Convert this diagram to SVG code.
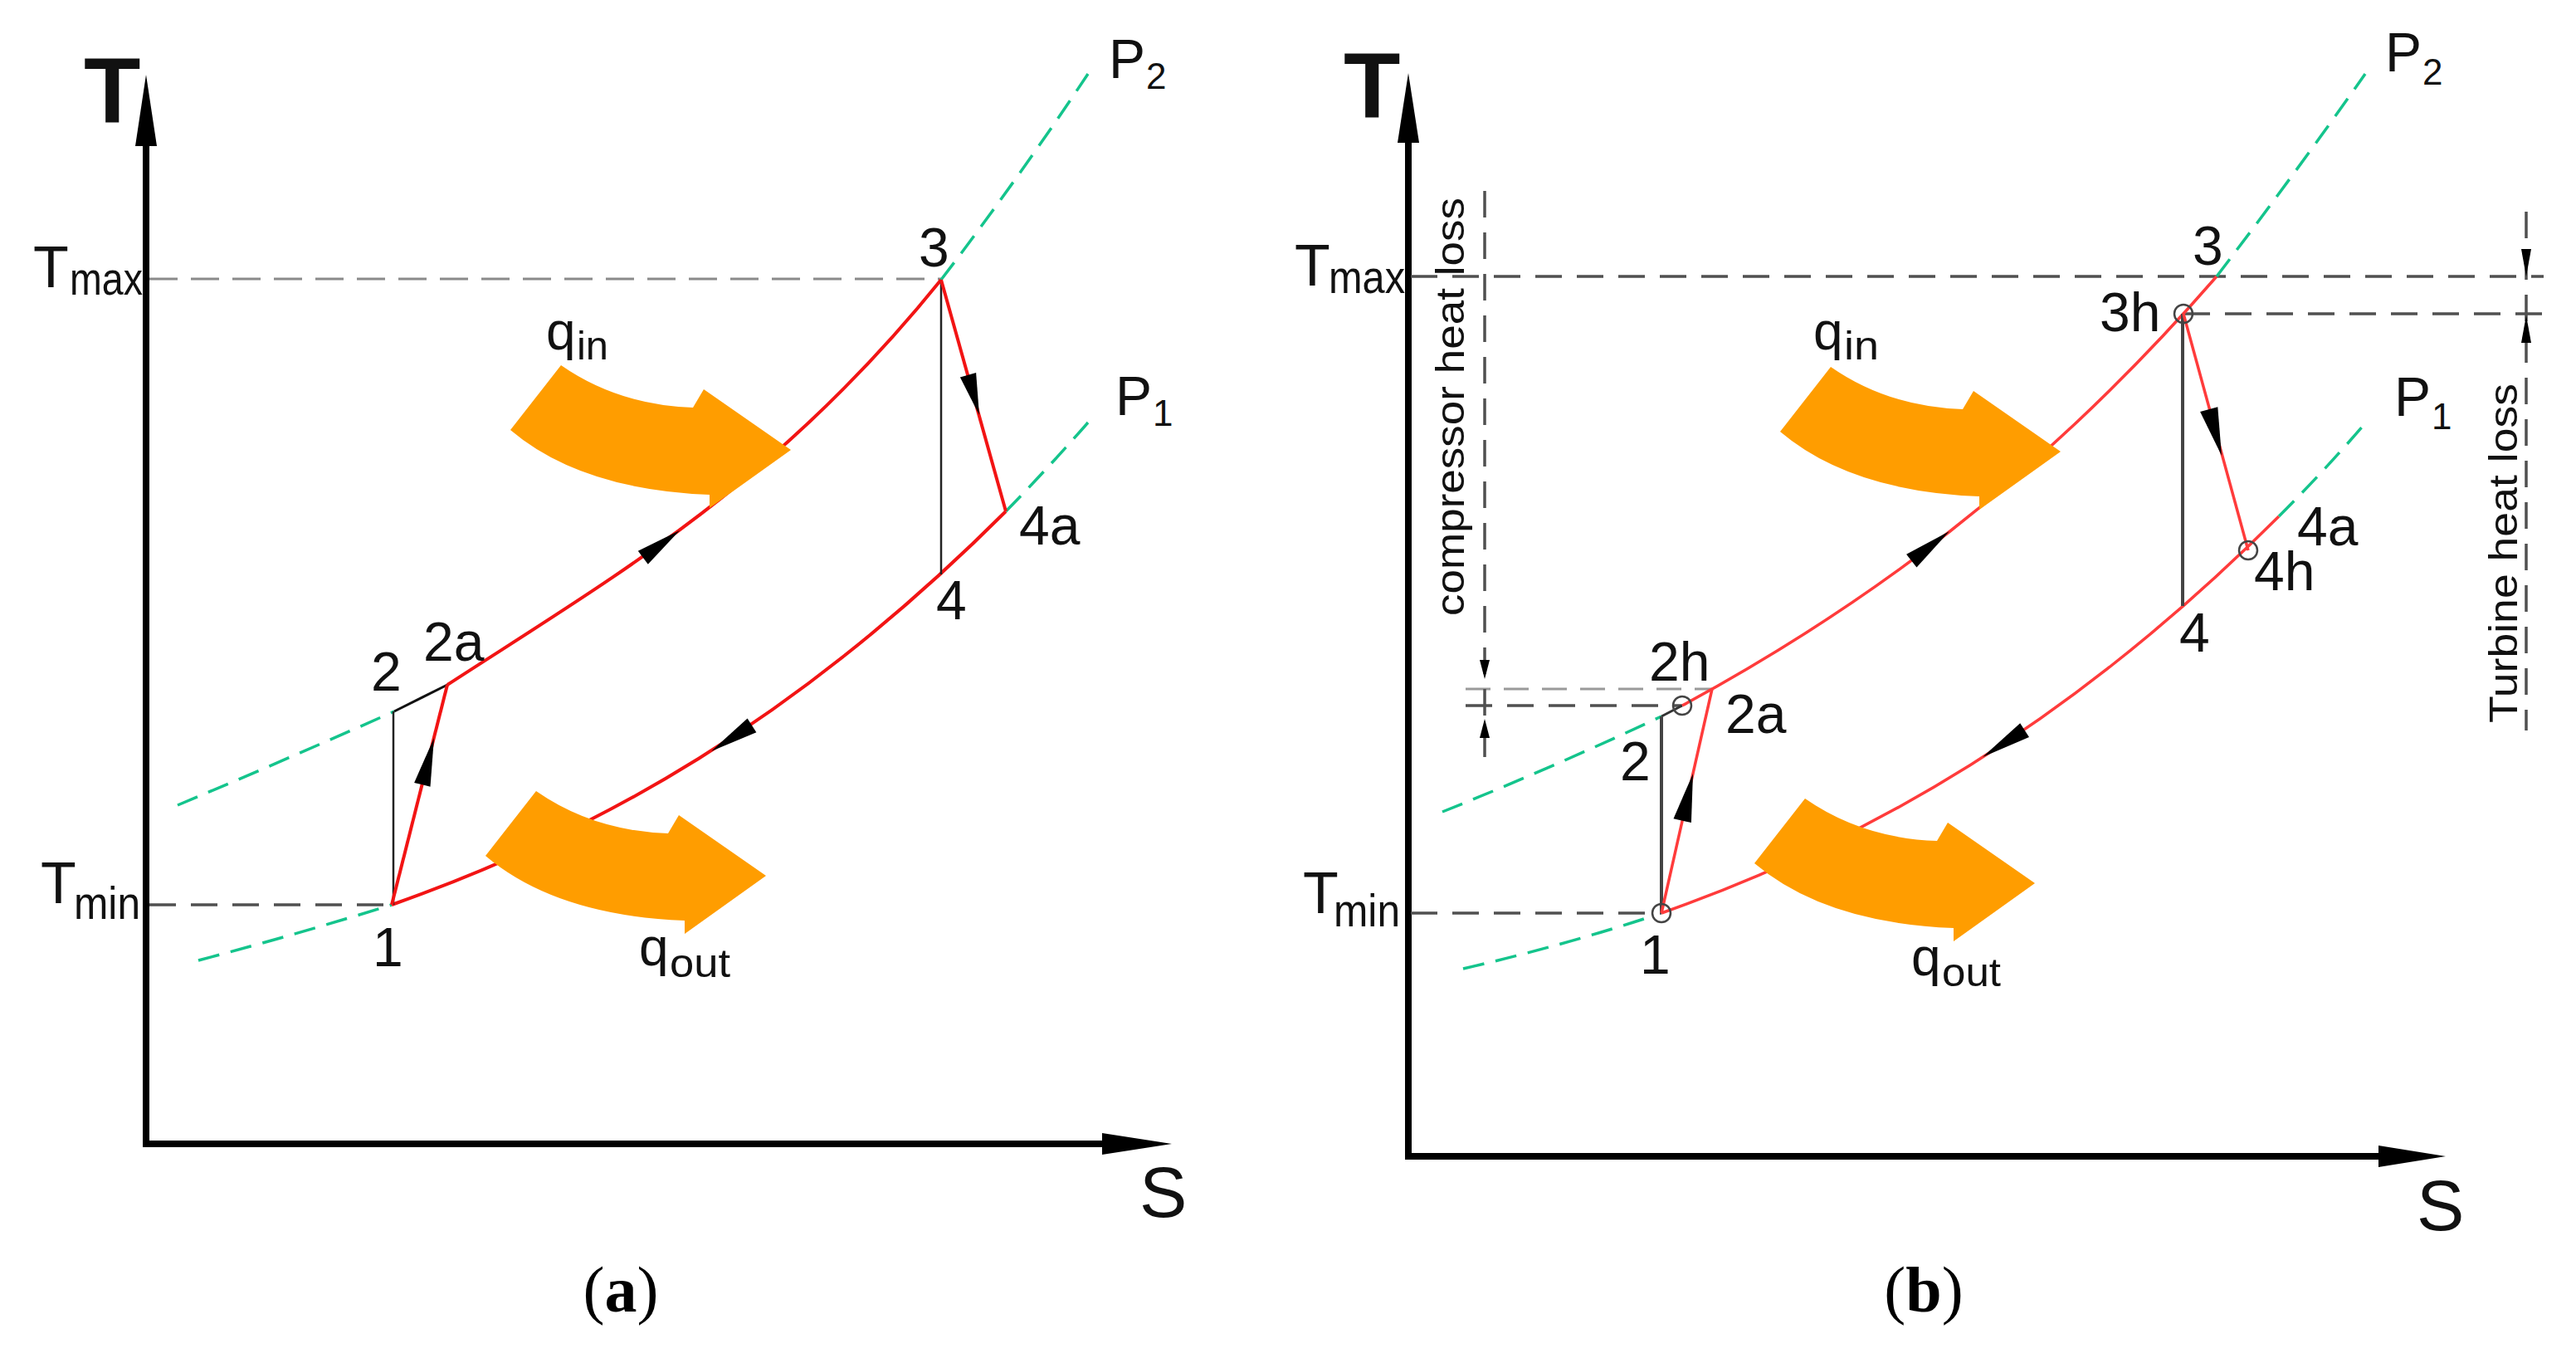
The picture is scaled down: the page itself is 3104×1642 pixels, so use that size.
<svg xmlns="http://www.w3.org/2000/svg" xmlns:xlink="http://www.w3.org/1999/xlink" width="3104" height="1642" viewBox="0 0 3104 1642">
<style>
.axis{stroke:#000;stroke-width:8;fill:none}
.ah{fill:#000;stroke:none}
.red{stroke:#f21414;stroke-width:4;fill:none}
.redb{stroke:#ff3b3b;stroke-width:3.5;fill:none}
.green{stroke:#14c48c;stroke-width:3.5;stroke-dasharray:26 14;fill:none}
.dsh{stroke:#8a8a8a;stroke-width:3;stroke-dasharray:34 16;fill:none}
.dshd{stroke:#505050;stroke-width:3.5;stroke-dasharray:32 18;fill:none}
.dshl{stroke:#9a9a9a;stroke-width:3;stroke-dasharray:30 16;fill:none}
.vert{stroke:#222;stroke-width:2.5;fill:none}
.vertb{stroke:#444;stroke-width:4;fill:none}
.circ{stroke:#444;stroke-width:2.5;fill:none}
.heat{fill:#ff9d00;stroke:none}
text{font-family:"Liberation Sans",Arial,Helvetica,sans-serif;fill:#111}
.pt{font-size:66px}
.big{font-size:112px;font-weight:bold}
.tl{font-size:70px}
.sub{font-size:56px}
.q{font-size:64px}
.qs{font-size:48px}
.P{font-size:66px}
.Ps{font-size:44px}
.S{font-size:86px}
.rot{font-size:48px}
.cap{font-family:"Liberation Serif","Times New Roman",serif;font-size:78px;fill:#000}
</style>
<defs>
<path id="heatArrow" d="M676,440 Q745,488 835,491 L848,469 L953,542 L855,612 L855,596 Q700,590 615,518 Z"/>
</defs>

<!-- ================= Panel (a) ================= -->
<g id="panel-a">
  <g id="a-axes">
    <line class="axis" x1="176" y1="1378" x2="176" y2="170"/>
    <polygon class="ah" points="176,90 189,176 163,176"/>
    <line class="axis" x1="172" y1="1378" x2="1335" y2="1378"/>
    <polygon class="ah" points="1412,1378 1328,1365 1328,1391"/>
    <text id="a-T" class="big" x="101" y="147">T</text>
    <text id="a-S" class="S" x="1373" y="1466">S</text>
  </g>
  <g id="a-connectors">
    <line class="dsh" x1="180" y1="336" x2="1134" y2="336"/>
    <line class="dshd" x1="180" y1="1090" x2="472" y2="1090"/>
    <path class="green" d="M214,970 Q345,915 475,857"/>
    <line stroke="#111" stroke-width="3" x1="475" y1="857" x2="539" y2="825"/>
    <path class="red" d="M539,825 C739,695 934,585 1134,337"/>
    <path class="green" d="M1134,337 Q1225,218 1311,89"/>
    <path class="green" d="M239,1157 Q360,1125 472,1090"/>
    <path class="red" d="M472,1090 C722,1002 962,866 1212,616"/>
    <path class="green" d="M1212,616 Q1262,565 1311,509"/>
    <line class="vert" x1="474" y1="857" x2="474" y2="1090"/>
    <line class="vert" stroke="#555" x1="1134" y1="337" x2="1134" y2="692"/>
    <line class="red" x1="472" y1="1090" x2="539" y2="825"/>
    <line class="red" x1="1134" y1="337" x2="1212" y2="616"/>
    <polygon class="ah" points="523,889 518.5,947.7 499.1,942.9"/>
    <polygon class="ah" points="1180,500 1156.9,454.5 1176.1,449.1"/>
    <polygon class="ah" points="819,639 780.8,679.7 768.8,663.7"/>
    <polygon class="ah" points="857,905 900.6,865.5 911.4,882.3"/>
  </g>
  <g id="a-heat">
    <use id="a-qin-arrow" xlink:href="#heatArrow" href="#heatArrow" class="heat"/>
    <use id="a-qout-arrow" xlink:href="#heatArrow" href="#heatArrow" class="heat" transform="translate(-30,513)"/>
  </g>
  <g id="a-labels">
    <g id="a-Tmax"><text class="tl" x="40" y="346">T</text><text class="sub" x="84" y="355" textLength="88" lengthAdjust="spacingAndGlyphs">max</text></g>
    <g id="a-Tmin"><text class="tl" x="49" y="1088">T</text><text class="sub" x="89" y="1107" textLength="80" lengthAdjust="spacingAndGlyphs">min</text></g>
    <g id="a-qin"><text class="q" x="658" y="421">q</text><text class="qs" x="695" y="433" textLength="38" lengthAdjust="spacingAndGlyphs">in</text></g>
    <g id="a-qout"><text class="q" x="770" y="1163">q</text><text class="qs" x="807" y="1177" textLength="73" lengthAdjust="spacingAndGlyphs">out</text></g>
    <g id="a-P2"><text class="P" x="1336" y="94">P</text><text class="Ps" x="1381" y="107">2</text></g>
    <g id="a-P1"><text class="P" x="1344" y="500">P</text><text class="Ps" x="1389" y="513">1</text></g>
    <text id="a-pt1" class="pt" x="449" y="1164">1</text>
    <text id="a-pt2" class="pt" x="447" y="832">2</text>
    <text id="a-pt2a" class="pt" x="510" y="796">2a</text>
    <text id="a-pt3" class="pt" x="1107" y="321">3</text>
    <text id="a-pt4" class="pt" x="1128" y="746">4</text>
    <text id="a-pt4a" class="pt" x="1228" y="656">4a</text>
  </g>
  <text id="cap-a" class="cap" x="748" y="1580" text-anchor="middle">(<tspan font-weight="bold">a</tspan>)</text>
</g>

<!-- ================= Panel (b) ================= -->
<g id="panel-b">
  <g id="b-axes">
    <line class="axis" x1="1697" y1="1393" x2="1697" y2="170"/>
    <polygon class="ah" points="1697,88 1710,172 1684,172"/>
    <line class="axis" x1="1693" y1="1393" x2="2870" y2="1393"/>
    <polygon class="ah" points="2947,1393 2866,1380 2866,1406"/>
    <text id="b-T" class="big" x="1619" y="141">T</text>
    <text id="b-S" class="S" x="2912" y="1482">S</text>
  </g>
  <g id="b-connectors">
    <line class="dshd" x1="1700" y1="333" x2="3065" y2="333"/>
    <line class="dshd" stroke="#666" x1="2631" y1="378" x2="3065" y2="378"/>
    <line class="dshd" x1="1700" y1="1100" x2="2002" y2="1100"/>
    <line class="dshl" x1="1766" y1="830" x2="2063" y2="830"/>
    <line class="dshd" stroke="#777" x1="1766" y1="850" x2="2027" y2="850"/>
    <line class="dshd" stroke-dasharray="36 12" x1="1789" y1="230" x2="1789" y2="927"/>
    <line class="dshd" stroke-dasharray="36 12" x1="3044" y1="255" x2="3044" y2="880"/>
    <polygon class="ah" points="1789,818 1783,795 1795,795"/>
    <polygon class="ah" points="1789,866 1783,889 1795,889"/>
    <polygon class="ah" points="3044,333 3038,300 3050,300"/>
    <polygon class="ah" points="3044,380 3038,413 3050,413"/>
    <path class="green" d="M1738,978 Q1870,925 2002,863"/>
    <line stroke="#333" stroke-width="3" x1="2002" y1="863" x2="2027" y2="850"/>
    <path class="redb" d="M2027,850 C2243,733 2456,580 2671,333"/>
    <path class="green" d="M2671,333 Q2765,210 2850,89"/>
    <path class="green" d="M1763,1167 Q1880,1140 1990,1104"/>
    <path class="redb" d="M2002,1100 C2252,1012 2496,872 2746,622"/>
    <path class="green" d="M2746,622 Q2800,568 2850,510"/>
    <line class="vertb" x1="2002" y1="863" x2="2002" y2="1100"/>
    <line class="vertb" x1="2630" y1="378" x2="2630" y2="730"/>
    <line class="redb" x1="2002" y1="1100" x2="2063" y2="830"/>
    <line class="redb" x1="2631" y1="378" x2="2709" y2="663"/>
    <polygon class="ah" points="2040,932 2037.9,991 2016.5,986.2"/>
    <polygon class="ah" points="2677,549 2651.1,496 2672.3,490.2"/>
    <polygon class="ah" points="2349,640 2309.5,683.6 2297.1,667.8"/>
    <polygon class="ah" points="2389,912 2434.2,871.3 2445,888.1"/>
    <circle class="circ" cx="2002" cy="1100" r="11"/>
    <circle class="circ" cx="2027" cy="850" r="11"/>
    <circle class="circ" cx="2631" cy="378" r="11"/>
    <circle class="circ" cx="2709" cy="663" r="11"/>
  </g>
  <g id="b-heat">
    <use id="b-qin-arrow" xlink:href="#heatArrow" href="#heatArrow" class="heat" transform="translate(1530,2)"/>
    <use id="b-qout-arrow" xlink:href="#heatArrow" href="#heatArrow" class="heat" transform="translate(1499,522)"/>
  </g>
  <g id="b-labels">
    <g id="b-Tmax"><text class="tl" x="1560" y="344">T</text><text class="sub" x="1601" y="353" textLength="92" lengthAdjust="spacingAndGlyphs">max</text></g>
    <g id="b-Tmin"><text class="tl" x="1570" y="1100">T</text><text class="sub" x="1607" y="1116" textLength="80" lengthAdjust="spacingAndGlyphs">min</text></g>
    <g id="b-qin"><text class="q" x="2185" y="421">q</text><text class="qs" x="2222" y="433" textLength="42" lengthAdjust="spacingAndGlyphs">in</text></g>
    <g id="b-qout"><text class="q" x="2303" y="1175">q</text><text class="qs" x="2340" y="1188" textLength="71" lengthAdjust="spacingAndGlyphs">out</text></g>
    <g id="b-P2"><text class="P" x="2874" y="86">P</text><text class="Ps" x="2919" y="102">2</text></g>
    <g id="b-P1"><text class="P" x="2885" y="501">P</text><text class="Ps" x="2930" y="517">1</text></g>
    <text id="b-pt1" class="pt" x="1976" y="1173">1</text>
    <text id="b-pt2" class="pt" x="1952" y="940">2</text>
    <text id="b-pt2h" class="pt" x="1987" y="820">2h</text>
    <text id="b-pt2a" class="pt" x="2079" y="883">2a</text>
    <text id="b-pt3" class="pt" x="2642" y="319">3</text>
    <text id="b-pt3h" class="pt" x="2530" y="399">3h</text>
    <text id="b-pt4" class="pt" x="2626" y="785">4</text>
    <text id="b-pt4a" class="pt" x="2768" y="657">4a</text>
    <text id="b-pt4h" class="pt" x="2716" y="711">4h</text>
    <text id="b-comp" class="rot" transform="translate(1764,742) rotate(-90)" textLength="504" lengthAdjust="spacingAndGlyphs">compressor heat loss</text>
    <text id="b-turb" class="rot" transform="translate(3033,871) rotate(-90)" textLength="409" lengthAdjust="spacingAndGlyphs">Turbine heat loss</text>
  </g>
  <text id="cap-b" class="cap" x="2318" y="1580" text-anchor="middle">(<tspan font-weight="bold">b</tspan>)</text>
</g>
</svg>
